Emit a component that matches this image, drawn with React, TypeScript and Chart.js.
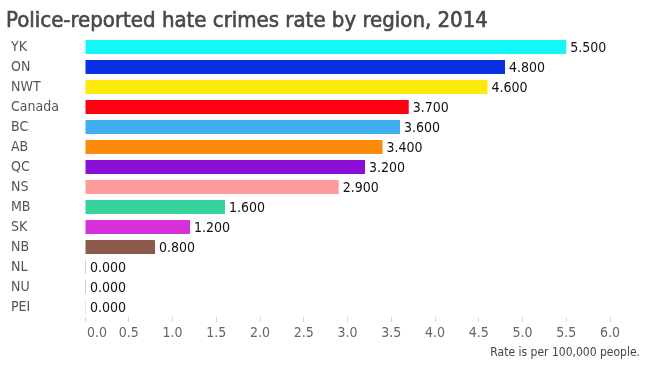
import React, { useEffect, useRef } from "react";
import { Chart, registerables } from "chart.js";

Chart.register(...registerables);

const categories = ["YK", "ON", "NWT", "Canada", "BC", "AB", "QC", "NS", "MB", "SK", "NB", "NL", "NU", "PEI"];
const rates = [5.5, 4.8, 4.6, 3.7, 3.6, 3.4, 3.2, 2.9, 1.6, 1.2, 0.8, 0, 0, 0];
const barColors = [
  "#14f6f7", "#0b2fe3", "#fdea0a", "#ff0011", "#42aef2", "#fb8a0b", "#8b0fd6",
  "#ff9a9a", "#38d39a", "#d730d8", "#8c5a4c", "#c49c94", "#e377c2", "#f7b6d2",
];
const titleText = "Police-reported hate crimes rate by region, 2014";
const noteText = "Rate is per 100,000 people.";
const xMin = 0;
const xMax = 6;
const xStep = 0.5;

const FONT = "'DejaVu Sans Condensed', 'DejaVu Sans', sans-serif";

const textPlugin = {
  id: "textPlugin",
  afterDatasetsDraw(chart: any) {
    const ctx = chart.ctx;
    const meta = chart.getDatasetMeta(0);
    ctx.save();
    ctx.font = `14px ${FONT}`;
    ctx.fillStyle = "#111";
    ctx.textAlign = "left";
    ctx.textBaseline = "middle";
    meta.data.forEach((bar: any, i: number) => {
      const v = chart.data.datasets[0].data[i] as number;
      ctx.fillText(v.toFixed(3), bar.x + 4, bar.y + 1);
    });
    ctx.restore();
  },
  afterDraw(chart: any) {
    const ctx = chart.ctx;
    ctx.save();
    ctx.font = `22px ${FONT}`;
    ctx.fillStyle = "#484848";
    ctx.strokeStyle = "#484848";
    ctx.lineWidth = 0.6;
    ctx.textAlign = "left";
    ctx.textBaseline = "alphabetic";
    ctx.fillText(titleText, 6, 27);
    ctx.strokeText(titleText, 6, 27);
    ctx.font = `12px ${FONT}`;
    ctx.fillStyle = "#444";
    ctx.textAlign = "right";
    ctx.fillText(noteText, 640, 356);
    ctx.restore();
  },
};

export default function App() {
  const ref = useRef<HTMLCanvasElement | null>(null);
  useEffect(() => {
    if (!ref.current) return;
    const chart = new Chart(ref.current, {
      type: "bar",
      data: {
        labels: categories,
        datasets: [
          {
            data: rates,
            backgroundColor: barColors,
            borderWidth: 0,
            categoryPercentage: 1,
            barPercentage: 0.7,
            minBarLength: 1,
          },
        ],
      },
      options: {
        indexAxis: "y",
        animation: false,
        responsive: true,
        maintainAspectRatio: false,
        events: [],
        layout: { padding: { left: 11, right: 35, top: 37, bottom: 15 } },
        plugins: { legend: { display: false }, tooltip: { enabled: false }, title: { display: false } },
        scales: {
          x: {
            type: "linear",
            min: xMin,
            max: xMax,
            ticks: {
              stepSize: xStep,
              color: "#666",
              font: { family: FONT, size: 14 },
              padding: 3,
              maxRotation: 0,
              autoSkip: false,
              callback: (v: any) => (Number(v) === 0 ? "\u00a0\u00a0\u00a0\u00a0\u00a0\u00a00.0" : Number(v).toFixed(1)),
            },
            grid: { drawOnChartArea: false, drawTicks: true, tickLength: 5, color: "#d8d8d8" },
            border: { display: false },
            afterFit: (s: any) => {
              s.height = 35;
            },
          },
          y: {
            type: "category",
            ticks: { crossAlign: "far", color: "#555", font: { family: FONT, size: 14 }, autoSkip: false },
            grid: { display: false, drawTicks: false },
            border: { display: false },
            afterFit: (s: any) => {
              s.width = 74;
            },
          },
        },
      },
      plugins: [textPlugin],
    });
    return () => chart.destroy();
  }, []);
  return (
    <div style={{ position: "absolute", left: 0, top: 0, width: 645, height: 367, background: "#fff" }}>
      <canvas ref={ref} />
    </div>
  );
}
